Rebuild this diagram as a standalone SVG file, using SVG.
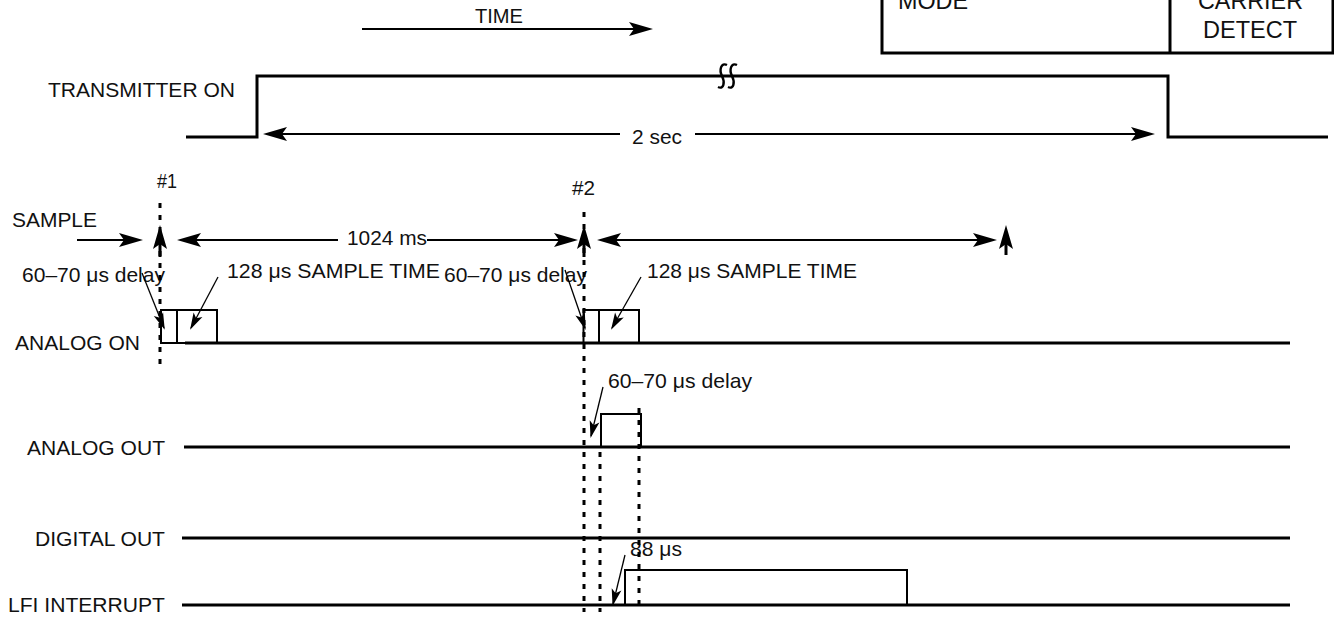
<svg xmlns="http://www.w3.org/2000/svg" width="1334" height="621" viewBox="0 0 1334 621">
<style>
text{font-family:"Liberation Sans",Arial,sans-serif;font-size:21px;fill:#111}
.tb{font-size:24px}
.sig{fill:none;stroke:#000;stroke-width:3;stroke-linejoin:miter}
.box{fill:none;stroke:#000;stroke-width:2}
.dot{fill:none;stroke:#000;stroke-width:3;stroke-dasharray:5 7}
.arr{fill:none;stroke:#000;stroke-width:2.2;marker-end:url(#big)}
.dbl{marker-start:url(#big)}
.thin{fill:none;stroke:#000;stroke-width:1.3;marker-end:url(#sm)}
</style>
<defs>
<marker id="big" viewBox="-18 -9 28 18" markerWidth="28" markerHeight="18" refX="0" refY="0" orient="auto-start-reverse" markerUnits="userSpaceOnUse">
<path d="M8,0 L-16,-7 L-11,0 L-16,7 Z" fill="#000"/>
</marker>
<marker id="sm" viewBox="-18 -7 22 14" markerWidth="22" markerHeight="14" refX="0" refY="0" orient="auto" markerUnits="userSpaceOnUse">
<path d="M2,0 L-15,-5 L-11,0 L-15,5 Z" fill="#000"/>
</marker>
</defs>

<g id="mode-table">
<rect x="882" y="-10" width="451" height="63" fill="none" stroke="#000" stroke-width="3"/>
<line x1="1170" y1="-10" x2="1170" y2="53" stroke="#000" stroke-width="3"/>
<text class="tb" x="898" y="9" textLength="70" lengthAdjust="spacingAndGlyphs">MODE</text>
<text class="tb" x="1198" y="9" textLength="105" lengthAdjust="spacingAndGlyphs">CARRIER</text>
<text class="tb" x="1203" y="38" textLength="94" lengthAdjust="spacingAndGlyphs">DETECT</text>
</g>

<g id="time-axis">
<text x="475" y="23" textLength="48" lengthAdjust="spacingAndGlyphs">TIME</text>
</g>

<g id="transmitter-on">
<text x="48" y="97" textLength="187" lengthAdjust="spacingAndGlyphs">TRANSMITTER ON</text>
<path class="sig" d="M186,137 H257 V76 H1168 V137 H1328"/>
<path d="M727,65 C721,62 719,70 722,76 C725,82 724,90 718,87" fill="none" stroke="#000" stroke-width="2.4"/>
<path d="M737,65 C731,62 729,70 732,76 C735,82 734,90 728,87" fill="none" stroke="#000" stroke-width="2.4"/>
<text x="632" y="144" textLength="50" lengthAdjust="spacingAndGlyphs">2 sec</text>
</g>

<g id="sample">
<text x="12" y="227" textLength="85" lengthAdjust="spacingAndGlyphs">SAMPLE</text>
<text x="157" y="188" textLength="20" lengthAdjust="spacingAndGlyphs">#1</text>
<text x="572" y="195" textLength="23" lengthAdjust="spacingAndGlyphs">#2</text>
<text x="347" y="245" textLength="80" lengthAdjust="spacingAndGlyphs">1024 ms</text>
</g>

<g id="analog-on">
<text x="15" y="350" textLength="125" lengthAdjust="spacingAndGlyphs">ANALOG ON</text>
<line class="sig" x1="185" y1="343" x2="1290" y2="343"/>
<rect class="box" x="161" y="310" width="56" height="33"/>
<line class="box" x1="177" y1="310" x2="177" y2="343"/>
<rect class="box" x="583.5" y="310" width="55.5" height="33"/>
<line class="box" x1="599" y1="310" x2="599" y2="343"/>
<text x="22" y="282" textLength="143" lengthAdjust="spacingAndGlyphs">60–70 μs delay</text>
<text x="227" y="278" textLength="213" lengthAdjust="spacingAndGlyphs">128 μs SAMPLE TIME</text>
<text x="444" y="282" textLength="143" lengthAdjust="spacingAndGlyphs">60–70 μs delay</text>
<text x="647" y="278" textLength="210" lengthAdjust="spacingAndGlyphs">128 μs SAMPLE TIME</text>
</g>

<g id="analog-out">
<text x="27" y="455" textLength="138" lengthAdjust="spacingAndGlyphs">ANALOG OUT</text>
<line class="sig" x1="184" y1="447" x2="1290" y2="447"/>
<rect class="box" x="601" y="414" width="40" height="33"/>
<text x="608" y="388" textLength="144" lengthAdjust="spacingAndGlyphs">60–70 μs delay</text>
</g>

<g id="digital-out">
<text x="35" y="546" textLength="130" lengthAdjust="spacingAndGlyphs">DIGITAL OUT</text>
<line class="sig" x1="182" y1="538" x2="1290" y2="538"/>
</g>

<g id="lfi-interrupt">
<text x="8" y="612" textLength="157" lengthAdjust="spacingAndGlyphs">LFI INTERRUPT</text>
<line class="sig" x1="182" y1="605" x2="1290" y2="605"/>
<rect class="box" x="625" y="570" width="282" height="35"/>
<text x="630" y="556" textLength="52" lengthAdjust="spacingAndGlyphs">88 μs</text>
</g>

<g id="connectors">
<line class="arr" x1="362" y1="29" x2="645" y2="29"/>
<line class="arr" x1="620" y1="134" x2="271" y2="134"/>
<line class="arr" x1="695" y1="134" x2="1147" y2="134"/>
<line class="dot" x1="160" y1="203" x2="160" y2="370"/>
<line class="dot" x1="584" y1="212" x2="584" y2="612"/>
<line class="dot" x1="600" y1="452" x2="600" y2="612"/>
<line class="dot" x1="639" y1="408" x2="639" y2="612"/>
<line class="arr" x1="77" y1="240" x2="135" y2="240"/>
<line class="arr" x1="338" y1="240" x2="185" y2="240"/>
<line class="arr" x1="427" y1="240" x2="570" y2="240"/>
<line class="arr dbl" x1="605" y1="240" x2="989" y2="240"/>
<line class="arr" style="stroke-width:3" x1="160" y1="257" x2="160" y2="233"/>
<line class="arr" style="stroke-width:3" x1="584" y1="257" x2="584" y2="233"/>
<line class="arr" style="stroke-width:3" x1="1006" y1="255" x2="1006" y2="233"/>
<line class="thin" x1="142" y1="273" x2="164" y2="328"/>
<line class="thin" x1="218" y1="277" x2="191" y2="328"/>
<line class="thin" x1="565" y1="270" x2="585" y2="328"/>
<line class="thin" x1="641" y1="277" x2="612" y2="328"/>
<line class="thin" x1="603" y1="387" x2="591" y2="436"/>
<line class="thin" x1="625" y1="555" x2="613" y2="604"/>
</g>
</svg>
